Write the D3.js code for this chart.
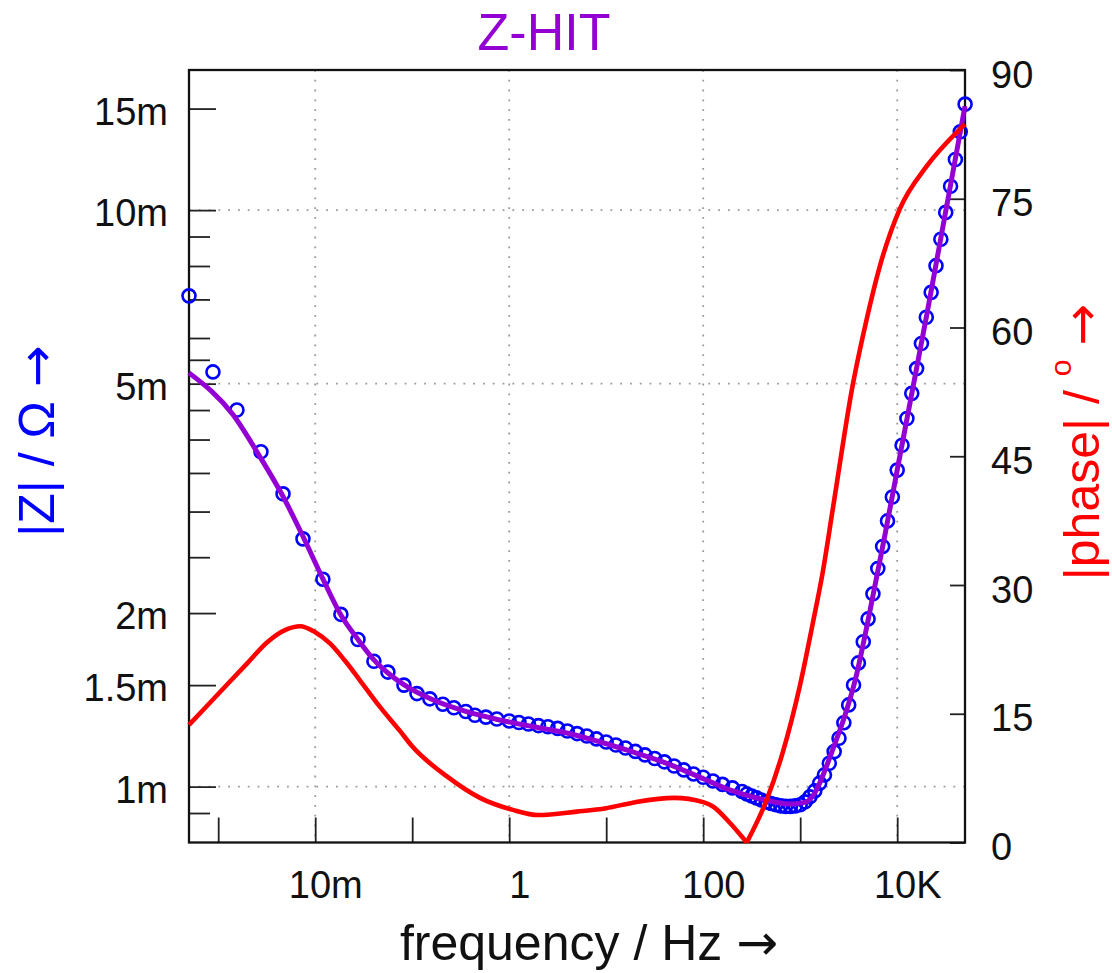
<!DOCTYPE html>
<html>
<head>
<meta charset="utf-8">
<script src="https://cdn.jsdelivr.net/npm/d3@7"></script>
<style>
  html, body { margin: 0; padding: 0; background: #fff; }
  svg { display: block; font-family: "Liberation Sans", Arial, sans-serif; }
</style>
</head>
<body>
<div id="chart"></div>
<script>
// measured |Z| (blue circles): frequency in Hz, |Z| in mOhm
const measFreq = [
  0.0005, 0.000883, 0.00156, 0.00276, 0.00466, 0.00748, 0.0120, 0.0184, 0.0276, 0.0403,
  0.0562, 0.0822, 0.112, 0.152, 0.207, 0.269, 0.357, 0.443, 0.575, 0.746,
  1, 1.26, 1.58, 2.0, 2.51, 3.16, 3.98, 5.01, 6.31, 7.94,
  10, 12.6, 15.8, 20, 25.1, 31.6, 39.8, 50.1, 63.1, 79.4,
  100, 126, 158, 200, 251,
  282, 316, 355, 398, 447, 501, 562, 631, 708, 794,
  891, 1000, 1122, 1259, 1413, 1585, 1778, 1995, 2239, 2512,
  2818, 3162, 3548, 3981, 4467, 5012, 5623, 6310, 7079, 7943,
  8913, 10000, 11220, 12590, 14130, 15850, 17780, 19950, 22390, 25120,
  28180, 31620, 35480, 39810, 44670, 50120
];
const measZ = [
  7.10, 5.24, 4.50, 3.81, 3.22, 2.69, 2.29, 1.99, 1.80, 1.65,
  1.58, 1.50, 1.45, 1.42, 1.39, 1.37, 1.35, 1.33, 1.32, 1.31,
  1.300, 1.292, 1.284, 1.276, 1.270, 1.262, 1.249, 1.236, 1.224, 1.210,
  1.195, 1.181, 1.167, 1.151, 1.135, 1.119, 1.104, 1.086, 1.069, 1.052,
  1.038, 1.023, 1.009, 0.995, 0.981,
  0.971, 0.963, 0.956, 0.948, 0.941, 0.935, 0.930, 0.926, 0.924, 0.924,
  0.926, 0.930, 0.941, 0.960, 0.983, 1.014, 1.048, 1.098, 1.150, 1.213,
  1.291, 1.386, 1.501, 1.639, 1.784, 1.954, 2.16, 2.39, 2.61, 2.89,
  3.18, 3.54, 3.91, 4.35, 4.81, 5.31, 5.87, 6.52, 7.20, 8.01,
  8.90, 9.91, 11.00, 12.24, 13.67, 15.27
];

// Z-HIT reconstruction (purple line)
const hitFreq = [
  0.0005, 0.00143, 0.0027, 0.00469, 0.00753, 0.0119, 0.0184, 0.0278, 0.0403, 0.0566,
  0.0828, 0.165, 0.364, 0.80, 2.07, 3.93, 8.01, 17.5, 38.3, 85.9,
  188, 411, 781, 1115, 1413, 1791, 2272, 2880, 3651, 5212,
  7438, 10370, 20160, 50000
];
const hitZ = [
  5.22, 4.41, 3.73, 3.18, 2.71, 2.30, 1.985, 1.797, 1.659, 1.573,
  1.501, 1.413, 1.349, 1.305, 1.264, 1.239, 1.200, 1.153, 1.104, 1.044,
  0.987, 0.950, 0.933, 0.939, 0.975, 1.065, 1.186, 1.326, 1.519, 2.009,
  2.721, 3.656, 6.576, 15.15
];

// |phase| in degrees (red line, right axis)
const phaseFreq = [
  0.0005, 0.001, 0.002, 0.00318, 0.005, 0.00697, 0.01, 0.0142, 0.0202, 0.0289,
  0.0465, 0.0747, 0.1, 0.228, 0.5, 1.09, 2, 5, 10, 20,
  50, 100, 126, 188, 281, 449, 661, 990, 1346, 1708,
  2165, 3480, 4852, 6605, 10620, 20150, 44100, 50000
];
const phaseDeg = [
  13.7, 17.3, 20.9, 23.3, 24.8, 25.2, 24.5, 23.2, 21.2, 18.9,
  15.8, 13.0, 11.2, 7.7, 5.2, 3.8, 3.2, 3.6, 4.0, 4.7,
  5.2, 4.7, 4.2, 2.3, 0, 4.9, 10.5, 18.2, 25.5, 31.5,
  38.8, 53.3, 61.0, 67.1, 73.8, 78.8, 83.1, 83.7
];

// axis ticks
const xTickVals = [0.001, 0.01, 0.1, 1, 10, 100, 1000, 10000];
const xTickLabels = { 0.01: '10m', 1: '1', 100: '100', 10000: '10K' };
const xGridVals = [0.01, 1, 100, 10000];
const yMajorVals = [15, 10, 5, 2, 1.5, 1];
const yMajorLabels = ['15m', '10m', '5m', '2m', '1.5m', '1m'];
const yMinorVals = [9, 8, 7, 6, 5.5, 4.5, 4, 3.5, 3, 2.5, 0.9];
const yGridVals = [10, 5, 1];
const phaseTicks = [0, 15, 30, 45, 60, 75, 90];

function renderChart() {
  const width = 1112, height = 973;
  const left = 189, right = 965, top = 70, bottom = 842.5;

  const svg = d3.select('#chart').append('svg')
    .attr('width', width)
    .attr('height', height);

  const x = d3.scaleLog().domain([5e-4, 5e4]).range([left, right]);
  const y = d3.scaleLog().domain([0.8, 17.5]).range([bottom, top]);
  const yPh = d3.scaleLinear().domain([0, 90]).range([bottom, top]);

  // dotted grid
  const grid = svg.append('g')
    .attr('stroke', '#999')
    .attr('stroke-width', 1.8)
    .attr('stroke-dasharray', '1.8,8');
  xGridVals.forEach(v => {
    grid.append('line').attr('x1', x(v)).attr('x2', x(v)).attr('y1', top).attr('y2', bottom);
  });
  yGridVals.forEach(v => {
    grid.append('line').attr('x1', left).attr('x2', right).attr('y1', y(v)).attr('y2', y(v));
  });

  const styleAxis = g => {
    g.attr('font-family', null).attr('font-size', 38);
    g.select('.domain').remove();
    g.selectAll('.tick line').attr('stroke', '#222').attr('stroke-width', 1.8);
    g.selectAll('.tick text').attr('fill', '#111');
  };

  // bottom axis
  svg.append('g')
    .attr('transform', `translate(0,${bottom})`)
    .call(d3.axisBottom(x).tickValues(xTickVals).tickSize(-25)
      .tickFormat(d => xTickLabels[d] || ''))
    .call(styleAxis)
    .call(g => g.selectAll('.tick text').attr('x', 10).attr('y', 0).attr('dy', 55));

  // left axis: minor then major ticks
  svg.append('g')
    .attr('transform', `translate(${left},0)`)
    .call(d3.axisLeft(y).tickValues(yMinorVals).tickSize(-21).tickFormat(() => ''))
    .call(styleAxis);

  svg.append('g')
    .attr('transform', `translate(${left},0)`)
    .call(d3.axisLeft(y).tickValues(yMajorVals).tickSize(-27)
      .tickFormat((d, i) => yMajorLabels[i]))
    .call(styleAxis)
    .call(g => g.selectAll('.tick text').attr('x', -21).attr('dy', 15.5));

  // right axis (phase)
  svg.append('g')
    .attr('transform', `translate(${right},0)`)
    .call(d3.axisRight(yPh).tickValues(phaseTicks).tickSize(-15))
    .call(styleAxis)
    .call(g => g.selectAll('.tick text').attr('x', 26).attr('dy', 17));

  // frame
  svg.append('rect')
    .attr('x', left).attr('y', top)
    .attr('width', right - left).attr('height', bottom - top)
    .attr('fill', 'none')
    .attr('stroke', '#111')
    .attr('stroke-width', 2.3);

  // measured circles
  svg.append('g').selectAll('circle')
    .data(measFreq.map((f, i) => ({ f, z: measZ[i] })))
    .join('circle')
    .attr('cx', d => x(d.f))
    .attr('cy', d => y(d.z))
    .attr('r', 6.5)
    .attr('fill', 'none')
    .attr('stroke', '#0000ff')
    .attr('stroke-width', 2.6);

  // Z-HIT line
  const hitLine = d3.line()
    .x(d => x(d.f)).y(d => y(d.z))
    .curve(d3.curveMonotoneX);
  svg.append('path')
    .datum(hitFreq.map((f, i) => ({ f, z: hitZ[i] })))
    .attr('d', hitLine)
    .attr('fill', 'none')
    .attr('stroke', '#9400d3')
    .attr('stroke-width', 5)
    .attr('stroke-linejoin', 'round');

  // phase line, split at the zero crossing so the V stays sharp
  const phData = phaseFreq.map((f, i) => ({ f, p: phaseDeg[i] }));
  const k = phaseDeg.indexOf(0);
  const phLine = d3.line()
    .x(d => x(d.f)).y(d => yPh(d.p))
    .curve(d3.curveMonotoneX);
  [phData.slice(0, k + 1), phData.slice(k)].forEach(seg => {
    svg.append('path')
      .datum(seg)
      .attr('d', phLine)
      .attr('fill', 'none')
      .attr('stroke', '#ff0000')
      .attr('stroke-width', 4.6)
      .attr('stroke-linejoin', 'round');
  });

  // title
  svg.append('text')
    .attr('x', 544).attr('y', 50)
    .attr('text-anchor', 'middle')
    .attr('font-size', 52)
    .attr('fill', '#9400d3')
    .text('Z-HIT');

  const arrow = t => t.append('tspan')
    .attr('font-family', '"DejaVu Sans", sans-serif')
    .text('\u2192');

  // x label
  const xl = svg.append('text')
    .attr('x', 589).attr('y', 960)
    .attr('text-anchor', 'middle')
    .attr('font-size', 50)
    .attr('fill', '#111');
  xl.append('tspan').text('frequency / Hz ');
  arrow(xl);

  // left label
  const yl = svg.append('text')
    .attr('transform', 'translate(54,441) rotate(-90)')
    .attr('text-anchor', 'middle')
    .attr('font-size', 50)
    .attr('fill', '#0000ff');
  yl.append('tspan').text('|Z| / \u03a9 ');
  arrow(yl);

  // right label
  const rl = svg.append('text')
    .attr('transform', 'translate(1099,442) rotate(-90)')
    .attr('text-anchor', 'middle')
    .attr('font-size', 50)
    .attr('fill', '#ff0000');
  rl.append('tspan').text('|phase| / ');
  rl.append('tspan').attr('font-size', 30).attr('dy', -28).text('o');
  rl.append('tspan').attr('dy', 28).text(' ');
  arrow(rl);
}

renderChart();
</script>
</body>
</html>
